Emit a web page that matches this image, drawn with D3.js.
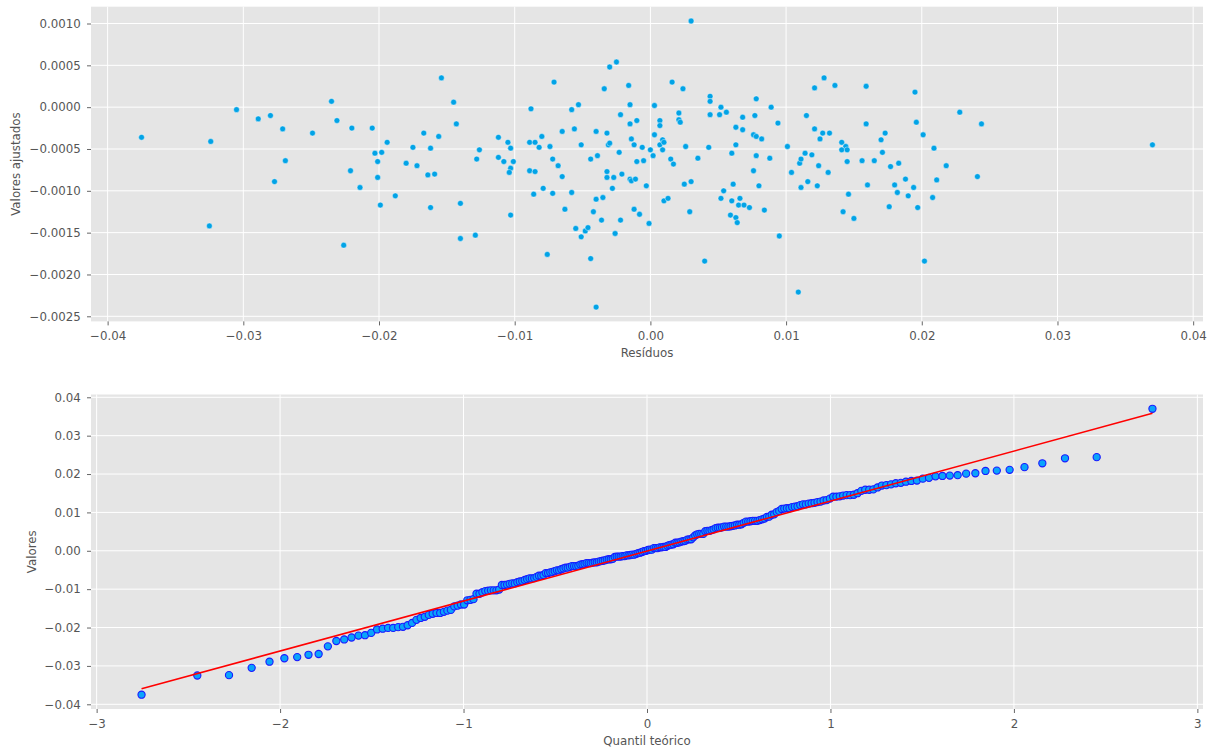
<!DOCTYPE html>
<html>
<head>
<meta charset="utf-8">
<script src="https://cdn.jsdelivr.net/npm/d3@7"></script>
<style>
  body { margin: 0; background: #ffffff; }
  svg text { font-family: "DejaVu Sans", sans-serif; }
</style>
</head>
<body>
<svg id="chart" width="1217" height="753"></svg>
<script>
// Residuals of the fitted model (x of the upper panel, sorted for the Q-Q panel)
const residuos = [
  -0.0375,-0.0324,-0.0325,-0.0305,-0.0289,-0.0280,-0.0271,-0.0269,-0.0277,
  -0.0249,-0.0235,-0.0231,-0.0220,-0.0205,-0.0194,-0.0203,-0.0198,-0.0201,-0.0221,-0.0214,
  -0.0201,-0.0199,-0.0188,-0.0226,-0.0175,-0.0180,-0.0172,-0.0167,-0.0156,-0.0162,
  -0.0164,-0.0159,-0.0162,-0.0154,-0.0145,-0.0143,-0.0140,-0.0140,-0.0129,-0.0128,-0.0126,
  -0.0112,-0.0112,-0.0108,-0.0105,-0.0103,-0.0101,-0.0103,-0.0104,-0.0103,-0.0088,
  -0.0089,-0.0085,-0.0080,-0.0082,-0.0074,-0.0089,-0.0085,-0.0086,-0.0079,-0.0072,
  -0.0071,-0.0072,-0.0068,-0.0065,-0.0065,-0.0063,-0.0076,-0.0058,-0.0053,-0.0056,
  -0.0051,-0.0058,-0.0055,-0.0051,-0.0048,-0.0046,-0.0044,-0.0040,-0.0044,-0.0039,
  -0.0040,-0.0042,-0.0040,-0.0035,-0.0036,-0.0034,-0.0030,-0.0025,-0.0032,-0.0031,
  -0.0030,-0.0032,-0.0032,-0.0027,-0.0028,-0.0026,-0.0023,-0.0022,-0.0022,-0.0021,
  -0.0016,-0.0015,-0.0015,-0.0010,-0.0014,-0.0012,-0.0015,-0.0014,-0.0011,-0.0010,
  -0.0012,-0.0008,-0.0006,-0.0005,-0.0003,-0.0001,0.0000,
  0.0002,0.0003,0.0003,0.0007,0.0007,0.0007,0.0009,0.0009,0.0010,0.0010,
  0.0013,0.0015,0.0017,0.0016,0.0024,0.0021,0.0021,0.0022,0.0026,0.0025,
  0.0030,0.0029,0.0030,0.0035,0.0040,0.0043,0.0044,0.0044,0.0044,0.0051,
  0.0052,0.0056,0.0054,0.0052,0.0060,0.0059,0.0063,0.0064,0.0065,0.0069,
  0.0066,0.0061,0.0060,0.0063,0.0063,0.0068,0.0068,0.0073,0.0076,0.0080,
  0.0078,0.0076,0.0078,0.0082,0.0077,0.0078,0.0084,0.0088,0.0089,0.0094,
  0.0095,0.0101,0.0104,0.0109,0.0110,0.0111,0.0114,0.0111,0.0116,0.0119,
  0.0115,0.0121,0.0121,0.0124,0.0123,0.0125,
  0.0128,0.0136,0.0127,0.0132,0.0131,0.0141,0.0144,0.0141,0.0145,0.0145,
  0.0146,0.0142,0.0150,0.0156,0.0159,0.0159,0.0160,0.0165,0.0170,0.0173,
  0.0171,0.0177,0.0183,0.0180,0.0182,0.0176,0.0188,0.0194,0.0190,0.0197,
  0.0195,0.0196,0.0201,0.0209,0.0202,0.0208,0.0211,0.0218,0.0228,0.0244,
  0.0241,0.0370
];

// Fitted values, paired index by index with residuos
const ajustados = [
  -0.00036,-0.00041,-0.00142,-0.00003,-0.00014,-0.00010,-0.00026,-0.00064,-0.00089,
  -0.00031,0.00007,-0.00016,-0.00025,-0.00025,-0.00042,-0.00055,-0.00054,-0.00065,-0.00076,-0.00096,
  -0.00084,-0.00117,-0.00106,-0.00165,-0.00048,-0.00067,-0.00070,-0.00031,-0.00035,-0.00049,
  -0.00081,-0.00080,-0.00120,0.00035,0.00006,-0.00020,-0.00115,-0.00157,-0.00153,-0.00062,-0.00051,
  -0.00036,-0.00060,-0.00065,-0.00042,-0.00049,-0.00065,-0.00073,-0.00078,-0.00129,-0.00002,
  -0.00042,-0.00042,-0.00035,-0.00048,-0.00047,-0.00076,-0.00077,-0.00104,-0.00097,-0.00103,
  0.00030,-0.00062,-0.00070,-0.00083,-0.00029,-0.00122,-0.00176,-0.00003,0.00003,-0.00026,
  -0.00045,-0.00102,-0.00145,-0.00155,-0.00148,-0.00144,-0.00181,-0.00239,-0.00062,-0.00058,
  -0.00029,-0.00125,-0.00110,-0.00108,-0.00135,0.00022,0.00048,0.00054,-0.00031,-0.00045,
  -0.00043,-0.00077,-0.00084,-0.00084,-0.00097,-0.00151,-0.00054,-0.00135,-0.00009,-0.00080,
  0.00026,0.00003,-0.00020,-0.00016,-0.00038,-0.00045,-0.00086,-0.00088,-0.00086,-0.00065,
  -0.00122,-0.00128,-0.00048,-0.00064,-0.00094,-0.00139,-0.00051,
  -0.00058,0.00002,-0.00033,-0.00016,-0.00022,-0.00045,-0.00051,-0.00039,-0.00042,-0.00112,
  -0.00109,-0.00062,-0.00068,0.00030,0.00022,-0.00007,-0.00015,-0.00018,-0.00047,-0.00092,
  -0.00089,-0.00125,0.00103,-0.00061,-0.00184,-0.00048,0.00013,0.00007,-0.00009,-0.00009,
  0.00000,-0.00006,-0.00100,-0.00109,-0.00112,-0.00129,-0.00132,-0.00138,-0.00117,-0.00117,
  -0.00109,-0.00092,-0.00055,-0.00045,-0.00024,-0.00027,-0.00012,-0.00120,-0.00076,-0.00094,
  -0.00058,-0.00033,-0.00035,-0.00038,-0.00010,0.00010,-0.00123,-0.00061,0.00000,-0.00019,
  -0.00154,-0.00047,-0.00078,-0.00221,-0.00067,-0.00062,-0.00055,-0.00096,-0.00089,-0.00057,
  -0.00010,-0.00026,0.00023,-0.00070,-0.00094,-0.00038,
  0.00035,0.00026,-0.00031,-0.00031,-0.00078,-0.00042,-0.00047,-0.00051,-0.00051,-0.00065,
  -0.00104,-0.00125,-0.00133,-0.00064,0.00025,-0.00020,-0.00093,-0.00064,-0.00039,-0.00031,
  -0.00054,-0.00071,-0.00067,-0.00093,-0.00102,-0.00119,-0.00086,-0.00096,-0.00106,-0.00120,
  0.00018,-0.00018,-0.00033,-0.00049,-0.00184,-0.00108,-0.00087,-0.00070,-0.00006,-0.00020,
  -0.00083,-0.00045
];

// Tick values
const ticksResiduos = [-0.04, -0.03, -0.02, -0.01, 0.00, 0.01, 0.02, 0.03, 0.04];
const ticksAjustados = [-0.0025, -0.0020, -0.0015, -0.0010, -0.0005, 0.0000, 0.0005, 0.0010];
const ticksQuantil = [-3, -2, -1, 0, 1, 2, 3];
const ticksValores = [-0.04, -0.03, -0.02, -0.01, 0.00, 0.01, 0.02, 0.03, 0.04];

// Axis titles
const tituloResiduos = "Resíduos";
const tituloAjustados = "Valores ajustados";
const tituloQuantil = "Quantil teórico";
const tituloValores = "Valores";

// ---------- helpers ----------
const svg = d3.select("#chart");
const BG = "#e5e5e5", TXT = "#555555", FS = 11.8;

// inverse standard normal CDF (Acklam's rational approximation)
function normInv(p) {
  const a = [-3.969683028665376e+01, 2.209460984245205e+02, -2.759285104469687e+02, 1.383577518672690e+02, -3.066479806614716e+01, 2.506628277459239e+00];
  const b = [-5.447609879822406e+01, 1.615858368580409e+02, -1.556989798598866e+02, 6.680131188771972e+01, -1.328068155288572e+01];
  const c = [-7.784894002430293e-03, -3.223964580411365e-01, -2.400758277161838e+00, -2.549732539343734e+00, 4.374664141464968e+00, 2.938163982698783e+00];
  const d = [7.784695709041462e-03, 3.224671290700398e-01, 2.445134137142996e+00, 3.754408661907416e+00];
  const pl = 0.02425, ph = 1 - pl;
  let q, r;
  if (p < pl) {
    q = Math.sqrt(-2 * Math.log(p));
    return (((((c[0]*q+c[1])*q+c[2])*q+c[3])*q+c[4])*q+c[5]) / ((((d[0]*q+d[1])*q+d[2])*q+d[3])*q+1);
  }
  if (p <= ph) {
    q = p - 0.5; r = q * q;
    return (((((a[0]*r+a[1])*r+a[2])*r+a[3])*r+a[4])*r+a[5])*q / (((((b[0]*r+b[1])*r+b[2])*r+b[3])*r+b[4])*r+1);
  }
  q = Math.sqrt(-2 * Math.log(1 - p));
  return -(((((c[0]*q+c[1])*q+c[2])*q+c[3])*q+c[4])*q+c[5]) / ((((d[0]*q+d[1])*q+d[2])*q+d[3])*q+1);
}

// matplotlib-like 5% padded extent
function padded(vals) {
  const [lo, hi] = d3.extent(vals);
  const m = (hi - lo) * 0.05;
  return [lo - m, hi + m];
}

// draws the grey panel, white grid, ticks and labels
function panel(box, x, y, xt, yt, fx, fy, xTitle, yTitle, xTitleY, yTitleX) {
  const g = svg.append("g");
  g.append("rect")
    .attr("x", box.l).attr("y", box.t)
    .attr("width", box.r - box.l).attr("height", box.b - box.t)
    .attr("fill", BG);

  const grid = g.append("g").attr("stroke", "#ffffff").attr("stroke-width", 1);
  grid.selectAll(".gx").data(xt).join("line")
    .attr("x1", d => x(d)).attr("x2", d => x(d))
    .attr("y1", box.t).attr("y2", box.b);
  grid.selectAll(".gy").data(yt).join("line")
    .attr("y1", d => y(d)).attr("y2", d => y(d))
    .attr("x1", box.l).attr("x2", box.r);

  const ax = g.append("g").attr("transform", `translate(0,${box.b})`)
    .call(d3.axisBottom(x).tickValues(xt).tickFormat(fx).tickSize(4).tickPadding(6.5));
  const ay = g.append("g").attr("transform", `translate(${box.l},0)`)
    .call(d3.axisLeft(y).tickValues(yt).tickFormat(fy).tickSize(4).tickPadding(6.3));
  [ax, ay].forEach(a => {
    a.select(".domain").remove();
    a.selectAll(".tick line").attr("stroke", TXT).attr("stroke-width", 0.9);
    a.selectAll(".tick text").attr("fill", TXT).attr("font-size", FS)
      .attr("font-family", "DejaVu Sans, sans-serif");
  });

  g.append("text")
    .attr("x", (box.l + box.r) / 2).attr("y", xTitleY)
    .attr("text-anchor", "middle").attr("dominant-baseline", "central")
    .attr("fill", TXT).attr("font-size", FS).text(xTitle);
  g.append("text")
    .attr("transform", `translate(${yTitleX},${(box.t + box.b) / 2}) rotate(-90)`)
    .attr("text-anchor", "middle").attr("dominant-baseline", "central")
    .attr("fill", TXT).attr("font-size", FS).text(yTitle);
  return g;
}

// ---------- upper panel: residuals vs fitted ----------
const boxTop = { l: 91, r: 1203, t: 6.7, b: 321.4 };
const xRes = d3.scaleLinear().domain(padded(residuos)).range([boxTop.l, boxTop.r]);
const yAju = d3.scaleLinear().domain(padded(ajustados)).range([boxTop.b, boxTop.t]);

const gTop = panel(boxTop, xRes, yAju, ticksResiduos, ticksAjustados,
  d3.format(".2f"), d3.format(".4f"), tituloResiduos, tituloAjustados, 353, 16);

const pontos = residuos.map((r, i) => ({ r, a: ajustados[i] }));
gTop.append("g").selectAll("circle").data(pontos).join("circle")
  .attr("cx", d => xRes(d.r)).attr("cy", d => yAju(d.a))
  .attr("r", 2.9)
  .attr("fill", "#02a3e6")
  .attr("stroke", "#ffffff").attr("stroke-opacity", 0.7).attr("stroke-width", 0.6);

// ---------- lower panel: normal Q-Q plot ----------
const ordenados = residuos.slice().sort(d3.ascending);
const n = ordenados.length;
// Filliben order-statistic medians
const u = d3.range(n).map(i => (i + 1 - 0.3175) / (n + 0.365));
u[n - 1] = Math.pow(0.5, 1 / n);
u[0] = 1 - u[n - 1];
const teoricos = u.map(normInv);

// least-squares reference line
const mx = d3.mean(teoricos), my = d3.mean(ordenados);
const inclinacao = d3.sum(teoricos, (t, i) => (t - mx) * (ordenados[i] - my)) /
                   d3.sum(teoricos, t => (t - mx) * (t - mx));
const intercepto = my - inclinacao * mx;

const boxBot = { l: 91, r: 1203, t: 394.5, b: 709 };
const xQ = d3.scaleLinear().domain(padded(teoricos)).range([boxBot.l, boxBot.r]);
const yV = d3.scaleLinear().domain(padded(ordenados)).range([boxBot.b, boxBot.t]);

const gBot = panel(boxBot, xQ, yV, ticksQuantil, ticksValores,
  d3.format("d"), d3.format(".2f"), tituloQuantil, tituloValores, 741, 32);

const qq = teoricos.map((t, i) => ({ t, v: ordenados[i] }));
gBot.append("g").selectAll("circle").data(qq).join("circle")
  .attr("cx", d => xQ(d.t)).attr("cy", d => yV(d.v))
  .attr("r", 3.6)
  .attr("fill", "#0aa4fa")
  .attr("stroke", "#1a1aff").attr("stroke-width", 1.1);

const linha = d3.line().x(d => xQ(d)).y(d => yV(inclinacao * d + intercepto));
gBot.append("path")
  .datum([teoricos[0], teoricos[n - 1]])
  .attr("d", linha)
  .attr("fill", "none").attr("stroke", "#ff0000").attr("stroke-width", 1.6);
</script>
</body>
</html>
